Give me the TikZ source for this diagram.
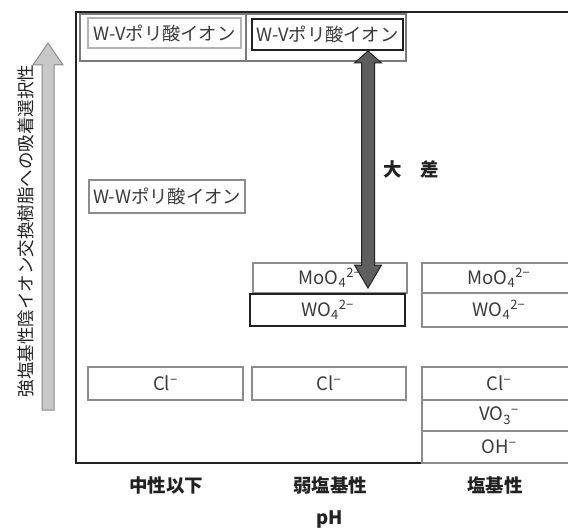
\documentclass[tikz,border=0pt]{standalone}
\usepackage{fontspec}
\setmainfont{Noto Sans CJK JP}
\usetikzlibrary{positioning}
\definecolor{boxgray}{HTML}{8C8C8C}
\definecolor{outgray}{HTML}{7A7A7A}
\definecolor{ingray}{HTML}{B4B4B4}
\definecolor{darkedge}{HTML}{222222}
\definecolor{txt}{HTML}{3A3A3A}
\definecolor{arrowdark}{HTML}{5E5E5E}
\definecolor{arrowlight}{HTML}{C8C8C8}
\tikzset{
  ion/.style={draw=boxgray, line width=2pt, fill=white, inner sep=0pt, font=\fontsize{18.5}{18.5}\selectfont, text=txt},
  iondark/.style={ion, draw=darkedge, line width=2.4pt},
  outerbox/.style={draw=outgray, line width=2.6pt, inner sep=0pt},
  innerbox/.style={draw=ingray, line width=2pt, fill=white, inner sep=0pt, font=\fontsize{18.3}{18.3}\selectfont, text=txt},
  poly/.style={ion, font=\fontsize{18.3}{18.3}\selectfont},
  lab/.style={font=\fontsize{18.5}{18.5}\selectfont\bfseries, text=darkedge},
}
\begin{document}
\begin{tikzpicture}[x=1pt,y=-1pt]
\clip (0,0) rectangle (568,532);
\fill[white] (0,0) rectangle (568,532);
% frame
\draw[line width=2pt, darkedge] (580,12) -- (76,12) -- (76,463) -- (580,463);
% top outer boxes
\node[outerbox, minimum width=166pt, minimum height=47pt] (o1) at (163,37.5) {};
\node[outerbox, minimum width=160pt, minimum height=47pt] (o2) at (326,37.5) {};
\node[innerbox, minimum width=153pt, minimum height=30pt] (wv1) at (164.5,33) {W-Vポリ酸イオン};
\node[innerbox, draw=darkedge, line width=2.6pt, minimum width=151pt, minimum height=31pt] (wv2) at (327.5,34.5) {W-Vポリ酸イオン};
% W-W box
\node[poly, minimum width=156pt, minimum height=33pt] (ww) at (167,196.5) {W-Wポリ酸イオン};
% column 2
\node[ion, minimum width=154pt, minimum height=30pt] (mo2) at (330,278) {MoO\textsubscript{4}\textsuperscript{2−}};
\node[iondark, minimum width=155pt, minimum height=32pt] (w2) at (327.5,310) {WO\textsubscript{4}\textsuperscript{2−}};
% column 3
\node[ion, minimum width=154pt, minimum height=30pt] (mo3) at (499,278) {MoO\textsubscript{4}\textsuperscript{2−}};
\node[ion, minimum width=154pt, minimum height=34pt] (w3) at (499,310) {WO\textsubscript{4}\textsuperscript{2−}};
% Cl row
\node[ion, minimum width=155pt, minimum height=33pt] (cl1) at (165.5,383.5) {Cl\textsuperscript{−}};
\node[ion, minimum width=154pt, minimum height=33pt] (cl2) at (329,383.5) {Cl\textsuperscript{−}};
\node[ion, minimum width=154pt, minimum height=33pt] (cl3) at (499,383.5) {Cl\textsuperscript{−}};
\node[ion, minimum width=154pt, minimum height=31pt] (vo3) at (499,415.5) {VO\textsubscript{3}\textsuperscript{−}};
\node[ion, minimum width=154pt, minimum height=32pt] (oh) at (499,447) {OH\textsuperscript{−}};
% big double arrow
\coordinate (at) at (368,51);
\coordinate (ab) at (368,288);
\draw[fill=arrowdark, draw=darkedge, line width=1pt]
  (at) -- ([xshift=13.5pt, yshift=-12pt]at) -- ([xshift=6.5pt, yshift=-12pt]at)
  -- ([xshift=6.5pt, yshift=23pt]ab) -- ([xshift=13.5pt, yshift=23pt]ab) -- (ab)
  -- ([xshift=-13.5pt, yshift=23pt]ab) -- ([xshift=-6.5pt, yshift=23pt]ab)
  -- ([xshift=-6.5pt, yshift=-12pt]at) -- ([xshift=-13.5pt, yshift=-12pt]at) -- cycle;
\node[lab] (diff) at (411,169) {大\hspace{1em}差};
% left arrow
\coordinate (lt) at (48,43);
\coordinate (lb) at (48,410);
\draw[fill=arrowlight, draw=boxgray, line width=1pt]
  (lt) -- ([xshift=15pt, yshift=-22pt]lt) -- ([xshift=6pt, yshift=-22pt]lt)
  -- ([xshift=6pt]lb) -- ([xshift=-6pt]lb) -- ([xshift=-6pt, yshift=-22pt]lt)
  -- ([xshift=-15pt, yshift=-22pt]lt) -- cycle;
\node[rotate=90, font=\fontsize{17.5}{17.5}\selectfont, text=darkedge] (ylab) at (26,231) {強塩基性陰イオン交換樹脂への吸着選択性};
% bottom labels
\node[lab] (c1) at (166,485) {中性以下};
\node[lab] (c2) at (330,485) {弱塩基性};
\node[lab] (c3) at (495,485) {塩基性};
\node[lab] (ph) at (330,520) {pH};
\end{tikzpicture}
\end{document}
